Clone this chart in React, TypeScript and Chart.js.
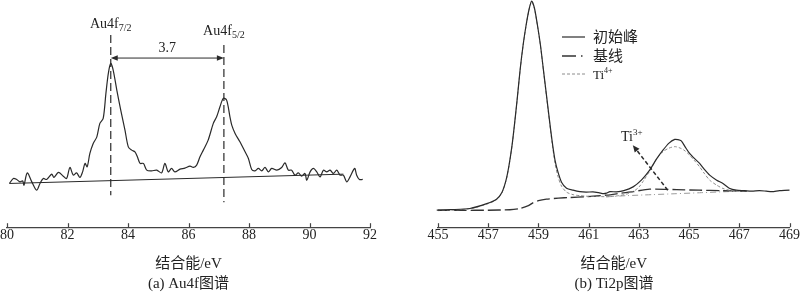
import React, { useEffect, useRef } from 'react';
import { Chart, registerables } from 'chart.js';

Chart.register(...registerables);

const FONT = "'Liberation Serif', 'Times New Roman', 'Noto Sans CJK SC', serif";
const INK = '#222';
const LINE = '#2a2a2a';

// ---------- Panel (a): Au4f ----------
const auXTicks = [80, 82, 84, 86, 88, 90, 92];
const auEnergy = [
  80.08, 80.21, 80.32, 80.43, 80.52, 80.56, 80.67, 80.82, 80.98, 81.09, 81.2, 81.31, 81.48, 81.55, 81.7,
  81.86, 81.97, 82.08, 82.19, 82.3, 82.41, 82.5, 82.58, 82.65, 82.74, 82.85, 82.97, 83.07, 83.18, 83.27,
  83.35, 83.43, 83.51, 83.63, 83.76, 83.9, 84.01, 84.12, 84.23, 84.31, 84.4, 84.51, 84.62, 84.78, 84.95,
  85.11, 85.22, 85.33, 85.44, 85.55, 85.72, 85.88, 86.05, 86.16, 86.27, 86.38, 86.49, 86.65, 86.82, 86.93,
  87.04, 87.15, 87.26, 87.37, 87.43, 87.54, 87.7, 87.87, 87.98, 88.09, 88.2, 88.31, 88.42, 88.53, 88.64,
  88.75, 88.92, 89.08, 89.19, 89.3, 89.41, 89.52, 89.63, 89.74, 89.85, 89.91, 90.02, 90.13, 90.24, 90.35,
  90.46, 90.57, 90.68, 90.79, 90.9, 91.01, 91.12, 91.23, 91.34, 91.45, 91.5, 91.56, 91.65, 91.76,
];
const auIntensity = [
  43.7, 48.7, 47.7, 45.3, 46.3, 42, 54.3, 45.3, 37, 43.7, 48.7, 47.7, 53, 49.7, 54.7,
  51, 48.7, 59.7, 52, 54.3, 49.7, 55.3, 63.7, 60.3, 73.7, 83.7, 90.3, 103.7, 108.7, 133.7,
  153.7, 163.7, 157, 137, 117, 97, 80.3, 77, 75.3, 70.3, 63.7, 63.7, 57, 56.3, 57,
  54.3, 63.7, 55.3, 58.7, 55.3, 58, 59, 61, 59.7, 62, 70.3, 77, 87, 103.7, 110.3,
  120.3, 128.7, 127, 110.3, 102, 93.7, 85.3, 75.3, 68.7, 57.7, 56.3, 58.7, 56.3, 59.7, 55.3,
  58.7, 57, 59.7, 64.3, 57, 57, 52, 54.3, 51, 53.7, 47, 55.3, 58.7, 55.3, 50.3,
  57, 55.3, 57, 53.7, 57, 52, 52, 45.3, 50.3, 57, 58.7, 52, 47.7, 47.7,
];
const auBaselineEnergy = [80.08, 91.12];
const auBaselineIntensity = [43.7, 53];
const auPeakEnergy = [83.43, 87.17];
const auPeakLineTop = [192, 182];
const auPeakLineBottom = [32, 25];
const auPeakNames = ['Au4f', 'Au4f'];
const auPeakSubs = ['7/2', '5/2'];
const auPeakLabelLevel = [199, 192];
const auSplitLevel = 169;
const auSplitText = '3.7';
const auSplitTextLevel = 175;

// ---------- Panel (b): Ti2p ----------
const tiXTicks = [455, 457, 459, 461, 463, 465, 467, 469];
const tiEnergy = [
  454.95, 455.5, 456.27, 456.94, 457.33, 457.55, 457.71, 457.83, 457.95, 458.03, 458.15, 458.27, 458.39,
  458.51, 458.63, 458.73, 458.84, 458.96, 459.08, 459.2, 459.32, 459.44, 459.54, 459.66, 459.78, 459.92,
  460.12, 460.38, 460.65, 460.9, 461.17, 461.4, 461.6, 461.71, 461.85, 462.11, 462.4, 462.77, 463.1,
  463.43, 463.7, 463.96, 464.2, 464.43, 464.55, 464.69, 464.85, 465.02, 465.2, 465.42, 465.6, 465.82,
  466.1, 466.35, 466.6, 466.88, 467.2, 467.5, 467.8, 468.07, 468.3, 468.6, 469.0, 469.27,
];
const tiRaw = [
  17, 17.5, 18.7, 23.5, 28, 35, 47, 62, 82, 99, 127, 157, 182,
  202, 218, 226, 219, 202, 182, 157, 132, 107, 87, 67, 55, 45,
  39, 37, 35.5, 35, 35.3, 34.5, 33.5, 34, 35.5, 35.3, 36.5, 40.3, 47,
  57, 68, 77, 84, 87.7, 87.5, 86.3, 80, 73.7, 69, 63.7, 58, 52,
  47, 43.7, 39, 37, 36.5, 36, 36.5, 36, 35.5, 36.5, 37, 38,
];
const tiBaseEnergy = [
  454.95, 456.0, 457.0, 457.86, 458.26, 458.6, 458.78, 459.0, 459.32, 459.8, 460.25, 460.9, 461.71,
  462.3, 462.77, 463.43, 464.5, 465.4, 466.3, 467.3,
];
const tiBaseline = [
  17, 16.8, 17, 17.5, 18.7, 21.5, 24.3, 26.5, 28, 29, 29.7, 30.5, 32,
  34, 35.5, 38, 37.5, 37, 36.5, 36,
];
const ti4Energy = [
  454.95, 455.5, 456.27, 456.94, 457.33, 457.55, 457.71, 457.83, 457.95, 458.03, 458.15, 458.27, 458.39,
  458.51, 458.63, 458.73, 458.84, 458.96, 459.08, 459.2, 459.32, 459.44, 459.54, 459.66, 459.78, 459.92,
  460.12, 460.38, 460.65, 460.9, 461.2, 461.7, 462.2, 462.5, 462.77, 463.0, 463.2, 463.43, 463.7, 463.96,
  464.2, 464.43, 464.6, 464.8, 465.02, 465.2, 465.42, 465.6, 465.82, 466.1, 466.35, 466.6, 466.88, 467.2,
];
const ti4Fit = [
  16.5, 17, 18.5, 23, 27.5, 34.5, 46.5, 61.5, 81.5, 98.5, 126.5, 156.5, 181.5,
  201.5, 217.5, 225.5, 218.5, 201.5, 181.5, 156.5, 131, 105.5, 85, 64, 50.5, 41,
  35, 32.5, 31.5, 31, 30.8, 30.5, 31.5, 33, 35.5, 40, 47, 56, 68, 75.5,
  79, 80.5, 79.5, 77, 72, 67, 60.3, 54, 47, 42, 38.7, 37, 36.3, 36.2,
];
const ti4BgEnergy = [461.7, 462.5, 463.5, 464.5, 465.5, 466.5, 467.2];
const ti4Bg = [30.3, 31.5, 32.5, 33.5, 34.5, 35.5, 36];
const tiLegendLabels = ['初始峰', '基线', 'Ti'];
const tiLegendSups = ['', '', '4+'];
const ti3Tail = [464.15, 37];
const ti3Head = [462.76, 82];
const ti3Label = ['Ti', '3+'];
const ti3LabelAt = [462.72, 86];

const pts = (xs: number[], ys: number[]) => xs.map((x, i) => ({ x, y: ys[i] }));

type Part = { t: string; size: number; dy: number };
function drawRich(ctx: CanvasRenderingContext2D, parts: Part[], cx: number, by: number, align: 'center' | 'left' = 'center') {
  let total = 0;
  const ws = parts.map((p) => {
    ctx.font = `${p.size}px ${FONT}`;
    const w = ctx.measureText(p.t).width;
    total += w;
    return w;
  });
  let x = align === 'center' ? cx - total / 2 : cx;
  ctx.textAlign = 'left';
  ctx.textBaseline = 'alphabetic';
  parts.forEach((p, i) => {
    ctx.font = `${p.size}px ${FONT}`;
    ctx.fillText(p.t, x, by + p.dy);
    x += ws[i];
  });
}

function arrowHead(ctx: CanvasRenderingContext2D, tx: number, ty: number, ang: number, len = 7, half = 2.8) {
  ctx.save();
  ctx.translate(tx, ty);
  ctx.rotate(ang);
  ctx.beginPath();
  ctx.moveTo(0, 0);
  ctx.lineTo(-len, -half);
  ctx.lineTo(-len, half);
  ctx.closePath();
  ctx.fill();
  ctx.restore();
}

const tickMarks = {
  id: 'tickMarks',
  afterDraw(chart: any) {
    const xs = chart.scales.x;
    const ctx = chart.ctx;
    const b = chart.chartArea.bottom;
    ctx.save();
    ctx.strokeStyle = '#444';
    ctx.lineWidth = 1.2;
    xs.ticks.forEach((t: any) => {
      const px = Math.round(xs.getPixelForValue(t.value)) + 0.5;
      ctx.beginPath();
      ctx.moveTo(px, b);
      ctx.lineTo(px, b - 4);
      ctx.stroke();
    });
    ctx.restore();
  },
};

const auNotes = {
  id: 'auNotes',
  afterDatasetsDraw(chart: any) {
    const xs = chart.scales.x;
    const ys = chart.scales.y;
    const ctx = chart.ctx as CanvasRenderingContext2D;
    ctx.save();
    ctx.fillStyle = INK;
    ctx.strokeStyle = LINE;
    ctx.lineWidth = 1;
    const x1 = xs.getPixelForValue(auPeakEnergy[0]);
    const x2 = xs.getPixelForValue(auPeakEnergy[1]);
    const y = ys.getPixelForValue(auSplitLevel);
    ctx.beginPath();
    ctx.moveTo(x1 + 3, y);
    ctx.lineTo(x2 - 3, y);
    ctx.stroke();
    ctx.fillStyle = LINE;
    arrowHead(ctx, x1, y, Math.PI);
    arrowHead(ctx, x2, y, 0);
    ctx.fillStyle = INK;
    drawRich(ctx, [{ t: auSplitText, size: 14, dy: 0 }], (x1 + x2) / 2, ys.getPixelForValue(auSplitTextLevel));
    auPeakEnergy.forEach((e, i) => {
      drawRich(
        ctx,
        [
          { t: auPeakNames[i], size: 14, dy: 0 },
          { t: auPeakSubs[i], size: 10, dy: 3 },
        ],
        xs.getPixelForValue(e),
        ys.getPixelForValue(auPeakLabelLevel[i])
      );
    });
    ctx.restore();
  },
};

const tiNotes = {
  id: 'tiNotes',
  afterDatasetsDraw(chart: any) {
    const xs = chart.scales.x;
    const ys = chart.scales.y;
    const ctx = chart.ctx as CanvasRenderingContext2D;
    ctx.save();
    // Ti3+ arrow
    const tx = xs.getPixelForValue(ti3Tail[0]);
    const ty = ys.getPixelForValue(ti3Tail[1]);
    const hx = xs.getPixelForValue(ti3Head[0]);
    const hy = ys.getPixelForValue(ti3Head[1]);
    const ang = Math.atan2(hy - ty, hx - tx);
    ctx.strokeStyle = LINE;
    ctx.lineWidth = 1.5;
    ctx.setLineDash([4, 2.5]);
    ctx.beginPath();
    ctx.moveTo(tx, ty);
    ctx.lineTo(hx - 5 * Math.cos(ang), hy - 5 * Math.sin(ang));
    ctx.stroke();
    ctx.setLineDash([]);
    ctx.fillStyle = LINE;
    arrowHead(ctx, hx, hy, ang, 7, 3);
    ctx.fillStyle = INK;
    drawRich(
      ctx,
      [
        { t: ti3Label[0], size: 14, dy: 0 },
        { t: ti3Label[1], size: 9, dy: -6 },
      ],
      xs.getPixelForValue(ti3LabelAt[0]),
      ys.getPixelForValue(ti3LabelAt[1])
    );
    // legend
    const ds = chart.data.datasets
      .filter((d: any) => d.legendIndex !== undefined)
      .sort((a: any, b: any) => a.legendIndex - b.legendIndex);
    const lx = 162;
    const ly = [37, 56, 74];
    ds.forEach((d: any, i: number) => {
      ctx.save();
      ctx.strokeStyle = d.borderColor;
      ctx.lineWidth = d.borderWidth;
      ctx.setLineDash(d.legendDash || d.borderDash || []);
      ctx.beginPath();
      ctx.moveTo(lx, ly[i]);
      ctx.lineTo(lx + 23, ly[i]);
      ctx.stroke();
      ctx.restore();
      ctx.fillStyle = INK;
      const parts: Part[] = [{ t: tiLegendLabels[i], size: i === 2 ? 13 : 15, dy: 0 }];
      if (tiLegendSups[i]) parts.push({ t: tiLegendSups[i], size: 8, dy: -6 });
      drawRich(ctx, parts, lx + 31, ly[i] + 5, 'left');
    });
    ctx.restore();
  },
};

function baseOptions(min: number, max: number, ticks: number[], caption: string, pad: any): any {
  return {
    animation: false,
    responsive: false,
    events: [],
    layout: { padding: pad, autoPadding: false },
    elements: { point: { radius: 0 }, line: { tension: 0.25 } },
    plugins: {
      legend: { display: false },
      tooltip: { enabled: false },
      title: {
        display: true,
        text: caption,
        position: 'bottom',
        color: INK,
        font: { family: FONT, size: 15, weight: 'normal' },
        padding: { top: 2, bottom: 8 },
      },
    },
    scales: {
      x: {
        type: 'linear',
        min,
        max,
        afterBuildTicks: (s: any) => {
          s.ticks = ticks.map((v) => ({ value: v }));
        },
        grid: { display: false, drawTicks: false },
        border: { display: true, color: '#444', width: 1.2 },
        ticks: {
          autoSkip: false,
          maxRotation: 0,
          padding: 0,
          color: INK,
          font: { family: FONT, size: 14 },
        },
        title: {
          display: true,
          text: '结合能/eV',
          color: INK,
          font: { family: FONT, size: 15 },
          padding: { top: 11, bottom: 0 },
        },
      },
      y: { display: false, min: 0, max: 227 },
    },
  };
}

function AuChart() {
  const ref = useRef<HTMLCanvasElement>(null);
  useEffect(() => {
    const chart = new Chart(ref.current!, {
      type: 'line',
      data: {
        datasets: [
          { data: pts(auEnergy, auIntensity), borderColor: LINE, borderWidth: 1.2, tension: 0.3 },
          { data: pts(auBaselineEnergy, auBaselineIntensity), borderColor: LINE, borderWidth: 1, tension: 0 },
          ...auPeakEnergy.map((e, i) => ({
            data: [
              { x: e, y: auPeakLineTop[i] },
              { x: e, y: auPeakLineBottom[i] },
            ],
            borderColor: LINE,
            borderWidth: 1.2,
            borderDash: [8, 4],
            tension: 0,
          })),
        ],
      },
      options: baseOptions(80, 92, auXTicks, '(a) Au4f图谱', { left: 7, right: 30, top: 0, bottom: 0 }),
      plugins: [tickMarks, auNotes],
    } as any);
    return () => chart.destroy();
  }, []);
  return <canvas ref={ref} width={400} height={301} style={{ display: 'block' }} />;
}

function TiChart() {
  const ref = useRef<HTMLCanvasElement>(null);
  useEffect(() => {
    const chart = new Chart(ref.current!, {
      type: 'line',
      data: {
        datasets: [
          { data: pts(tiEnergy, tiRaw), borderColor: LINE, borderWidth: 1.2, clip: false, legendIndex: 0 },
          { data: pts(ti4Energy, ti4Fit), borderColor: '#8c8c8c', borderWidth: 1, borderDash: [3, 2], legendIndex: 2 },
          { data: pts(tiBaseEnergy, tiBaseline), borderColor: '#333', borderWidth: 1.4, borderDash: [13, 4], legendDash: [14, 5, 1.5, 5], legendIndex: 1 },
          { data: pts(ti4BgEnergy, ti4Bg), borderColor: '#9a9a9a', borderWidth: 1, borderDash: [6, 3, 1, 3] },
        ],
      },
      options: baseOptions(455, 469, tiXTicks, '(b) Ti2p图谱', { left: 38, right: 10, top: 0, bottom: 0 }),
      plugins: [tickMarks, tiNotes],
    } as any);
    return () => chart.destroy();
  }, []);
  return <canvas ref={ref} width={400} height={301} style={{ display: 'block' }} />;
}

export default function App() {
  return (
    <div style={{ position: 'absolute', left: 0, top: 0, width: 800, height: 301, display: 'flex', background: '#fff' }}>
      <AuChart />
      <TiChart />
    </div>
  );
}
